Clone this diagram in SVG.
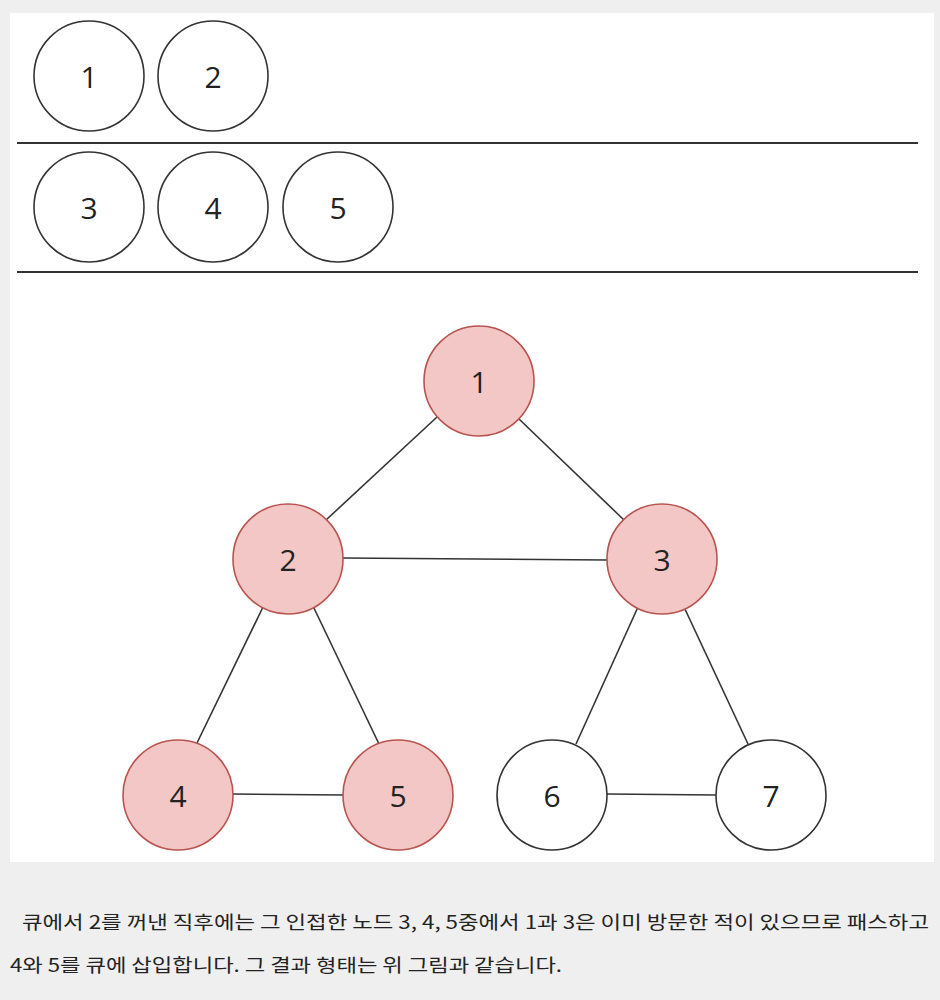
<svg xmlns="http://www.w3.org/2000/svg" width="940" height="1000" viewBox="0 0 940 1000">
<style>
.q{fill:#ffffff;stroke:#333333;stroke-width:1.6}
.v{fill:#f2c7c5;stroke:#b85450;stroke-width:1.6}
.lbl{font-family:"Open Sans","Noto Sans",sans-serif;font-size:30px;fill:#222222;text-anchor:middle;dominant-baseline:central}
.e{stroke:#333333;stroke-width:1.6;fill:none}
.sep{stroke:#333333;stroke-width:1.8}
.cap{font-family:"Noto Sans CJK KR","Noto Sans",sans-serif;font-size:18px;fill:#222222}
</style>
<rect x="0" y="0" width="940" height="1000" fill="#efefef"/>
<rect x="10" y="13" width="924" height="849" fill="#ffffff"/>
<line class="sep" x1="17" y1="143" x2="918" y2="143"/>
<line class="sep" x1="17" y1="272" x2="918" y2="272"/>
<g id="queue1"><circle class="q" cx="89" cy="76" r="55"/><text class="lbl" x="89" y="76">1</text></g>
<g id="queue2"><circle class="q" cx="213" cy="76" r="55"/><text class="lbl" x="213" y="76">2</text></g>
<g id="queue3"><circle class="q" cx="89" cy="207" r="55"/><text class="lbl" x="89" y="207">3</text></g>
<g id="queue4"><circle class="q" cx="213" cy="207" r="55"/><text class="lbl" x="213" y="207">4</text></g>
<g id="queue5"><circle class="q" cx="338" cy="207" r="55"/><text class="lbl" x="338" y="207">5</text></g>
<g id="edges">
<line class="e" x1="437" y1="417" x2="326" y2="520"/>
<line class="e" x1="519" y1="419" x2="624" y2="520"/>
<line class="e" x1="343" y1="558" x2="607" y2="560"/>
<line class="e" x1="263" y1="607" x2="197" y2="743"/>
<line class="e" x1="313" y1="606" x2="379" y2="744"/>
<line class="e" x1="638" y1="607" x2="576" y2="744"/>
<line class="e" x1="684" y1="607" x2="748" y2="744"/>
<line class="e" x1="233" y1="794" x2="343" y2="795"/>
<line class="e" x1="607" y1="794" x2="716" y2="795"/>
</g>
<g id="node1"><circle class="v" cx="479" cy="381" r="55"/><text class="lbl" x="479" y="381">1</text></g>
<g id="node2"><circle class="v" cx="288" cy="559" r="55"/><text class="lbl" x="288" y="559">2</text></g>
<g id="node3"><circle class="v" cx="662" cy="559" r="55"/><text class="lbl" x="662" y="559">3</text></g>
<g id="node4"><circle class="v" cx="178" cy="795" r="55"/><text class="lbl" x="178" y="795">4</text></g>
<g id="node5"><circle class="v" cx="398" cy="795" r="55"/><text class="lbl" x="398" y="795">5</text></g>
<g id="node6"><circle class="q" cx="552" cy="795" r="55"/><text class="lbl" x="552" y="795">6</text></g>
<g id="node7"><circle class="q" cx="771" cy="795" r="55"/><text class="lbl" x="771" y="795">7</text></g>
<text class="cap" x="22" y="929" textLength="907" lengthAdjust="spacingAndGlyphs">큐에서 2를 꺼낸 직후에는 그 인접한 노드 3, 4, 5중에서 1과 3은 이미 방문한 적이 있으므로 패스하고</text>
<text class="cap" x="10" y="972" textLength="552" lengthAdjust="spacingAndGlyphs">4와 5를 큐에 삽입합니다. 그 결과 형태는 위 그림과 같습니다.</text>
</svg>
